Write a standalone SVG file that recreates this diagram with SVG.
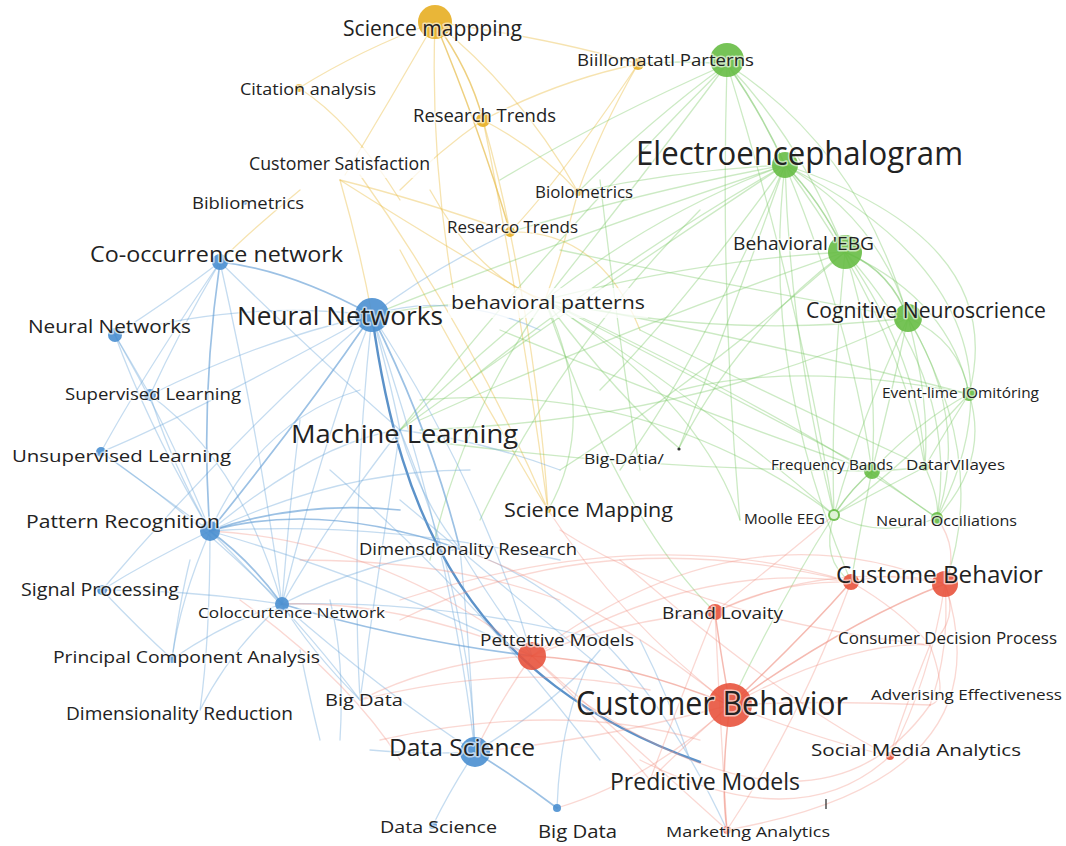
<svg xmlns="http://www.w3.org/2000/svg" width="1066" height="846" viewBox="0 0 1066 846">
  <style>
    .e { fill: none; stroke-width: 1.3; stroke-linecap: round; }
    .eb { stroke: #6da7da; stroke-opacity: 0.4; }
    .ebs { stroke: #3f7fbf; stroke-opacity: 0.85; stroke-width: 2.4; }
    .ebm { stroke: #5a98d2; stroke-opacity: 0.6; stroke-width: 1.7; }
    .eg { stroke: #79c765; stroke-opacity: 0.38; }
    .egm { stroke: #6bbf55; stroke-opacity: 0.55; stroke-width: 1.6; }
    .ey { stroke: #eac050; stroke-opacity: 0.45; }
    .eym { stroke: #e3b02c; stroke-opacity: 0.6; stroke-width: 1.5; }
    .er { stroke: #f09080; stroke-opacity: 0.35; }
    .erm { stroke: #ec7563; stroke-opacity: 0.5; stroke-width: 1.5; }
    .nb { fill: #4a8fd0; fill-opacity: 0.9; }
    .ng { fill: #67bd45; fill-opacity: 0.9; }
    .ny { fill: #e7ae22; fill-opacity: 0.9; }
    .nr { fill: #e8533d; fill-opacity: 0.9; }
    text { font-family: "Open Sans", "Noto Sans", "DejaVu Sans", sans-serif; fill: #222222;
           stroke: #ffffff; stroke-opacity: 0.6; stroke-width: 3; paint-order: stroke; stroke-linejoin: round; }
    .halo { fill: #ffffff; fill-opacity: 0.75; }
  </style>

  <rect width="1066" height="846" fill="#ffffff"/>

  <!-- connectors -->
  <g id="edges">
    <!-- yellow cluster -->
    <path class="e eym" d="M435,22 Q470,70 483,120"/>
    <path class="e ey" d="M435,22 Q360,50 299,88"/>
    <path class="e eym" d="M435,22 Q480,130 510,232"/>
    <path class="e ey" d="M435,22 Q390,100 345,175"/>
    <path class="e ey" d="M435,22 Q520,90 578,192"/>
    <path class="e ey" d="M435,22 Q430,160 455,300"/>
    <path class="e ey" d="M435,22 Q560,40 638,64"/>
    <path class="e ey" d="M483,120 Q520,300 548,510"/>
    <path class="e ey" d="M483,120 Q440,150 400,190"/>
    <path class="e ey" d="M483,120 Q560,80 638,64"/>
    <path class="e ey" d="M483,120 Q500,180 510,232"/>
    <path class="e ey" d="M483,120 Q540,150 578,192"/>
    <path class="e ey" d="M299,88 Q350,120 400,200"/>
    <path class="e ey" d="M340,180 Q420,200 510,232"/>
    <path class="e ey" d="M340,180 Q450,250 548,305"/>
    <path class="e ey" d="M340,180 Q360,250 372,315"/>
    <path class="e ey" d="M360,175 Q470,330 548,510"/>
    <path class="e ey" d="M300,190 Q240,240 220,262"/>
    <path class="e ey" d="M430,190 Q480,280 545,300"/>
    <path class="e ey" d="M510,232 Q540,380 548,510"/>
    <path class="e ey" d="M638,64 Q600,130 578,192"/>
    <path class="e ey" d="M638,64 Q560,180 510,232"/>
    <path class="e ey" d="M578,192 Q560,260 545,300"/>
    <path class="e ey" d="M400,250 Q470,380 548,510"/>
    <path class="e ey" d="M510,232 Q600,230 640,330"/>

    <!-- green cluster -->
    <path class="e egm" d="M727,64 Q760,110 785,165"/>
    <path class="e eg" d="M727,64 Q800,140 845,252"/>
    <path class="e eg" d="M727,64 Q860,150 908,318"/>
    <path class="e eg" d="M727,64 Q640,180 545,300"/>
    <path class="e eg" d="M727,64 Q720,300 740,520"/>
    <path class="e eg" d="M727,64 Q650,120 578,192"/>
    <path class="e eg" d="M727,64 Q680,60 638,64"/>
    <path class="e eg" d="M727,64 Q560,230 400,430"/>
    <path class="e eg" d="M727,64 Q600,120 500,180"/>
    <path class="e eg" d="M727,64 Q800,300 834,515"/>
    <path class="e egm" d="M785,165 Q820,200 845,252"/>
    <path class="e eg" d="M785,165 Q880,220 908,318"/>
    <path class="e eg" d="M785,165 Q1010,240 969,394"/>
    <path class="e eg" d="M785,165 Q1050,300 937,518"/>
    <path class="e eg" d="M785,165 Q850,320 872,471"/>
    <path class="e eg" d="M785,165 Q900,320 925,467"/>
    <path class="e eg" d="M785,165 Q790,340 834,515"/>
    <path class="e eg" d="M785,165 Q660,210 545,300"/>
    <path class="e eg" d="M785,165 Q730,320 679,448"/>
    <path class="e eg" d="M785,165 Q680,170 578,192"/>
    <path class="e eg" d="M785,165 Q650,190 510,232"/>
    <path class="e eg" d="M785,165 Q580,300 400,430"/>
    <path class="e eg" d="M785,165 Q560,240 372,315"/>
    <path class="e eg" d="M785,165 Q760,370 851,582"/>
    <path class="e eg" d="M785,165 Q700,360 620,470"/>
    <path class="e eg" d="M785,165 Q620,260 470,380"/>
    <path class="e eg" d="M785,165 Q680,310 600,390"/>
    <path class="e egm" d="M845,252 Q890,270 908,318"/>
    <path class="e eg" d="M845,252 Q950,300 969,394"/>
    <path class="e eg" d="M845,252 Q880,360 872,471"/>
    <path class="e eg" d="M845,252 Q920,360 925,467"/>
    <path class="e eg" d="M845,252 Q830,400 834,515"/>
    <path class="e eg" d="M845,252 Q960,380 937,518"/>
    <path class="e eg" d="M845,252 Q700,260 545,300"/>
    <path class="e eg" d="M845,252 Q740,330 679,448"/>
    <path class="e eg" d="M845,252 Q620,330 420,420"/>
    <path class="e eg" d="M845,252 Q700,380 560,470"/>
    <path class="e eg" d="M908,318 Q960,340 969,394"/>
    <path class="e eg" d="M908,318 Q890,400 872,471"/>
    <path class="e eg" d="M908,318 Q930,400 925,467"/>
    <path class="e eg" d="M908,318 Q860,420 834,515"/>
    <path class="e eg" d="M908,318 Q970,420 937,518"/>
    <path class="e eg" d="M908,318 Q990,460 945,584"/>
    <path class="e eg" d="M908,318 Q720,340 545,300"/>
    <path class="e eg" d="M908,318 Q700,420 420,430"/>
    <path class="e eg" d="M969,394 Q920,420 872,471"/>
    <path class="e eg" d="M969,394 Q940,440 925,467"/>
    <path class="e eg" d="M969,394 Q990,460 937,518"/>
    <path class="e eg" d="M969,394 Q800,360 680,390"/>
    <path class="e eg" d="M969,394 Q900,470 834,515"/>
    <path class="e egm" d="M872,471 Q850,490 834,515"/>
    <path class="e eg" d="M872,471 Q900,470 925,467"/>
    <path class="e eg" d="M872,471 Q910,500 937,518"/>
    <path class="e eg" d="M872,471 Q700,380 545,300"/>
    <path class="e eg" d="M872,471 Q640,470 420,440"/>
    <path class="e eg" d="M872,471 Q860,530 851,582"/>
    <path class="e eg" d="M925,467 Q880,490 834,515"/>
    <path class="e eg" d="M925,467 Q940,500 937,518"/>
    <path class="e eg" d="M834,515 Q880,540 937,518"/>
    <path class="e eg" d="M834,515 Q820,560 851,582"/>
    <path class="e eg" d="M834,515 Q700,400 545,300"/>
    <path class="e eg" d="M834,515 Q780,600 730,705"/>
    <path class="e eg" d="M545,300 Q620,400 679,448"/>
    <path class="e eg" d="M545,300 Q600,420 548,510"/>
    <path class="e eg" d="M545,300 Q470,360 400,430"/>
    <path class="e eg" d="M545,300 Q460,300 372,315"/>
    <path class="e eg" d="M545,300 Q700,400 740,520"/>
    <path class="e eg" d="M545,300 Q760,340 969,394"/>
    <path class="e eg" d="M545,300 Q800,420 937,518"/>
    <path class="e eg" d="M545,300 Q460,420 430,560"/>
    <path class="e eg" d="M545,300 Q620,520 715,612"/>
    <path class="e eg" d="M560,250 Q700,280 908,318"/>
    <path class="e eg" d="M420,400 Q650,380 834,515"/>
    <path class="e eg" d="M500,330 Q720,420 872,471"/>
    <path class="e eg" d="M600,180 Q620,350 640,470"/>
    <path class="e eg" d="M640,330 Q780,400 925,467"/>
    <path class="e eg" d="M700,210 Q560,350 480,520"/>

    <!-- blue cluster -->
    <path class="e ebs" d="M372,315 C400,520 470,680 700,762"/>
    <path class="e ebm" d="M372,315 Q290,270 220,262"/>
    <path class="e eb" d="M372,315 Q240,300 115,335"/>
    <path class="e eb" d="M372,315 Q260,340 150,395"/>
    <path class="e ebm" d="M372,315 Q300,420 210,531"/>
    <path class="e eb" d="M372,315 Q320,450 282,604"/>
    <path class="e eb" d="M372,315 Q230,440 102,590"/>
    <path class="e ebm" d="M372,315 Q430,430 460,549"/>
    <path class="e eb" d="M372,315 Q350,520 360,700"/>
    <path class="e eb" d="M372,315 Q450,540 475,752"/>
    <path class="e eb" d="M372,315 Q480,480 532,656"/>
    <path class="e eb" d="M372,315 Q390,380 400,430"/>
    <path class="e eb" d="M372,315 Q180,420 101,452"/>
    <path class="e eb" d="M372,315 Q450,290 540,330"/>
    <path class="e eb" d="M372,315 Q430,270 510,232"/>
    <path class="e ebm" d="M210,531 Q200,400 220,262"/>
    <path class="e eb" d="M210,531 Q150,430 115,335"/>
    <path class="e eb" d="M210,531 Q170,460 150,395"/>
    <path class="e eb" d="M210,531 Q140,480 101,452"/>
    <path class="e eb" d="M210,531 Q150,560 102,590"/>
    <path class="e ebm" d="M210,531 Q250,560 282,604"/>
    <path class="e eb" d="M210,531 Q180,600 172,659"/>
    <path class="e eb" d="M210,531 Q210,640 200,710"/>
    <path class="e eb" d="M210,531 Q300,620 360,700"/>
    <path class="e ebm" d="M210,531 Q320,500 460,549"/>
    <path class="e ebm" d="M210,531 Q300,500 400,510"/>
    <path class="e eb" d="M210,531 Q320,440 400,430"/>
    <path class="e eb" d="M210,531 Q380,580 532,656"/>
    <path class="e eb" d="M210,531 Q380,520 560,560"/>
    <path class="e eb" d="M210,531 Q260,420 360,390"/>
    <path class="e eb" d="M210,531 Q340,470 470,470"/>
    <path class="e eb" d="M282,604 Q230,620 172,659"/>
    <path class="e eb" d="M282,604 Q190,590 102,590"/>
    <path class="e eb" d="M282,604 Q310,650 360,700"/>
    <path class="e ebm" d="M282,604 Q400,640 532,656"/>
    <path class="e eb" d="M282,604 Q380,690 475,752"/>
    <path class="e eb" d="M282,604 Q230,650 200,710"/>
    <path class="e eb" d="M282,604 Q370,560 460,549"/>
    <path class="e eb" d="M282,604 Q290,500 300,420"/>
    <path class="e eb" d="M282,604 Q330,520 400,430"/>
    <path class="e eb" d="M282,604 Q450,600 600,640"/>
    <path class="e eb" d="M220,262 Q170,300 115,335"/>
    <path class="e eb" d="M220,262 Q180,330 150,395"/>
    <path class="e eb" d="M220,262 Q260,440 282,604"/>
    <path class="e eb" d="M220,262 Q320,360 400,430"/>
    <path class="e eb" d="M220,262 Q140,380 101,452"/>
    <path class="e eb" d="M115,335 Q130,360 150,395"/>
    <path class="e eb" d="M115,335 Q170,430 210,531"/>
    <path class="e eb" d="M150,395 Q240,460 282,604"/>
    <path class="e eb" d="M101,452 Q200,520 282,604"/>
    <path class="e eb" d="M102,590 Q140,630 172,659"/>
    <path class="e eb" d="M172,659 Q180,600 190,560"/>
    <path class="e eb" d="M400,430 Q420,500 460,549"/>
    <path class="e eb" d="M400,430 Q380,560 360,700"/>
    <path class="e eb" d="M400,430 Q470,600 475,752"/>
    <path class="e eb" d="M400,430 Q480,440 560,470"/>
    <path class="e eb" d="M460,549 Q490,600 532,656"/>
    <path class="e eb" d="M460,549 Q470,650 475,752"/>
    <path class="e eb" d="M460,549 Q620,600 727,830"/>
    <path class="e ebm" d="M475,752 Q520,780 557,808"/>
    <path class="e eb" d="M475,752 Q450,790 433,825"/>
    <path class="e eb" d="M475,752 Q420,755 370,750"/>
    <path class="e eb" d="M475,752 Q560,700 600,650"/>
    <path class="e eb" d="M557,808 Q560,720 590,660"/>
    <path class="e eb" d="M640,640 Q670,700 690,760"/>
    <path class="e eb" d="M330,600 Q345,660 340,740"/>
    <path class="e eb" d="M300,650 Q310,700 320,740"/>
    <path class="e eb" d="M400,500 Q520,600 640,700"/>
    <path class="e eb" d="M330,470 Q480,600 600,760"/>

    <!-- red cluster -->
    <path class="e erm" d="M730,705 Q800,640 851,582"/>
    <path class="e erm" d="M730,705 Q850,620 945,584"/>
    <path class="e erm" d="M730,705 Q720,650 715,612"/>
    <path class="e erm" d="M730,705 Q620,660 532,656"/>
    <path class="e er" d="M730,705 Q850,640 930,645"/>
    <path class="e er" d="M730,705 Q830,700 930,705"/>
    <path class="e er" d="M730,705 Q820,740 890,756"/>
    <path class="e erm" d="M730,705 Q720,780 727,830"/>
    <path class="e er" d="M730,705 Q690,740 650,780"/>
    <path class="e er" d="M730,705 Q600,740 475,752"/>
    <path class="e er" d="M730,705 Q650,780 557,808"/>
    <path class="e er" d="M730,705 Q620,620 548,510"/>
    <path class="e er" d="M730,705 Q600,600 460,549"/>
    <path class="e er" d="M945,584 Q900,570 851,582"/>
    <path class="e er" d="M945,584 Q830,560 715,612"/>
    <path class="e er" d="M945,584 Q960,620 930,645"/>
    <path class="e er" d="M945,584 Q950,650 930,705"/>
    <path class="e er" d="M945,584 Q930,680 890,756"/>
    <path class="e er" d="M945,584 Q1010,780 727,830"/>
    <path class="e er" d="M945,584 Q740,500 532,656"/>
    <path class="e er" d="M945,584 Q960,550 937,518"/>
    <path class="e er" d="M851,582 Q780,580 715,612"/>
    <path class="e er" d="M851,582 Q700,560 532,656"/>
    <path class="e er" d="M851,582 Q900,610 930,645"/>
    <path class="e er" d="M851,582 Q800,720 727,830"/>
    <path class="e er" d="M851,582 Q650,520 400,600"/>
    <path class="e er" d="M532,656 Q620,620 715,612"/>
    <path class="e er" d="M532,656 Q600,720 650,780"/>
    <path class="e er" d="M532,656 Q650,760 727,830"/>
    <path class="e er" d="M532,656 Q500,700 475,752"/>
    <path class="e er" d="M532,656 Q440,660 360,700"/>
    <path class="e er" d="M532,656 Q400,600 282,604"/>
    <path class="e er" d="M532,656 Q380,540 210,531"/>
    <path class="e er" d="M715,612 Q720,720 727,830"/>
    <path class="e er" d="M715,612 Q680,700 650,780"/>
    <path class="e er" d="M715,612 Q780,560 834,515"/>
    <path class="e er" d="M640,760 Q800,840 890,756"/>
    <path class="e er" d="M580,700 Q820,860 930,705"/>
    <path class="e er" d="M400,620 Q600,520 851,582"/>
    <path class="e er" d="M360,700 Q520,660 650,690"/>
    <path class="e er" d="M380,740 Q560,700 700,740"/>
    <path class="e er" d="M620,560 Q780,700 890,756"/>
    <path class="e er" d="M560,530 Q700,620 930,645"/>
    <path class="e er" d="M930,645 Q950,700 930,705"/>
    <path class="e er" d="M930,645 Q900,720 890,756"/>
    <path class="e er" d="M300,560 Q450,560 560,600"/>
    <path class="e er" d="M240,600 Q350,680 400,760"/>
  </g>

  <!-- white backgrounds behind the two boxed labels -->
  <rect class="halo" x="246" y="148" width="188" height="30"/>
  <rect class="halo" x="448" y="288" width="200" height="30"/>

  <!-- nodes: yellow cluster -->
  <g id="n-science-mappping"><circle class="ny" cx="435" cy="22" r="17"/><text x="343" y="36" font-size="21" textLength="179" lengthAdjust="spacingAndGlyphs">Science mappping</text></g>
  <g id="n-citation-analysis"><circle class="ny" cx="299" cy="88" r="4"/><text x="240" y="95" font-size="17" textLength="136" lengthAdjust="spacingAndGlyphs">Citation analysis</text></g>
  <g id="n-research-trends"><circle class="ny" cx="483" cy="120" r="7"/><text x="413" y="122" font-size="18" textLength="143" lengthAdjust="spacingAndGlyphs">Research Trends</text></g>
  <g id="n-customer-satisfaction"><text x="249" y="170" font-size="19" textLength="181" lengthAdjust="spacingAndGlyphs">Customer Satisfaction</text></g>
  <g id="n-biolometrics"><circle class="ny" cx="578" cy="192" r="4"/><text x="535" y="198" font-size="16" textLength="98" lengthAdjust="spacingAndGlyphs">Biolometrics</text></g>
  <g id="n-researco-trends"><circle class="ny" cx="510" cy="232" r="5"/><text x="447" y="233" font-size="16" textLength="131" lengthAdjust="spacingAndGlyphs">Researco Trends</text></g>
  <g id="n-bibliometrics"><circle class="nb" cx="245" cy="203" r="2"/><text x="192" y="209" font-size="16" textLength="112" lengthAdjust="spacingAndGlyphs">Bibliometrics</text></g>
  <g id="n-science-mapping"><circle class="ny" cx="548" cy="510" r="3" fill-opacity="0.6"/><text x="504" y="517" font-size="20" textLength="169" lengthAdjust="spacingAndGlyphs">Science Mapping</text></g>

  <!-- nodes: green cluster -->
  <g id="n-parterns"><circle class="ny" cx="638" cy="64" r="6"/><circle class="ng" cx="727" cy="60" r="17"/><text x="577" y="66" font-size="17" textLength="177" lengthAdjust="spacingAndGlyphs">Biillomatatl Parterns</text></g>
  <g id="n-electroencephalogram"><circle class="ng" cx="785" cy="165" r="13"/><text x="636" y="165" font-size="33" textLength="327" lengthAdjust="spacingAndGlyphs">Electroencephalogram</text></g>
  <g id="n-behavioral-ebg"><circle class="ng" cx="845" cy="252" r="17"/><text x="733" y="250" font-size="18" textLength="141" lengthAdjust="spacingAndGlyphs">Behavioral 'EBG</text></g>
  <g id="n-cognitive-neuroscience"><circle class="ng" cx="908" cy="318" r="14"/><text x="806" y="318" font-size="21" textLength="240" lengthAdjust="spacingAndGlyphs">Cognitive Neuroscrience</text></g>
  <g id="n-event-time"><circle class="ng" cx="969" cy="394" r="7"/><text x="882" y="398" font-size="15" textLength="157" lengthAdjust="spacingAndGlyphs">Event-lime IOmitóring</text></g>
  <g id="n-frequency-bands"><circle class="ng" cx="872" cy="471" r="8"/><text x="771" y="470" font-size="14" textLength="122" lengthAdjust="spacingAndGlyphs">Frequency Bands</text></g>
  <g id="n-data-waves"><circle class="ng" cx="925" cy="467" r="4"/><text x="906" y="470" font-size="15" textLength="99" lengthAdjust="spacingAndGlyphs">DatarVIlayes</text></g>
  <g id="n-mobile-eeg"><circle class="ng" cx="834" cy="515" r="6"/><circle cx="834" cy="515" r="4" fill="#dff2d6"/><text x="744" y="524" font-size="14" textLength="81" lengthAdjust="spacingAndGlyphs">Moolle EEG</text></g>
  <g id="n-neural-oscillations"><circle class="ng" cx="937" cy="518" r="6"/><text x="876" y="526" font-size="15" textLength="141" lengthAdjust="spacingAndGlyphs">Neural Occiliations</text></g>
  <g id="n-behavioral-patterns"><text x="451" y="309" font-size="19" textLength="194" lengthAdjust="spacingAndGlyphs">behavioral patterns</text></g>
  <g id="n-big-datia"><circle cx="679" cy="449" r="1.6" fill="#333333"/><text x="584" y="464" font-size="14" textLength="80" lengthAdjust="spacingAndGlyphs">Big-Datia/</text></g>

  <!-- nodes: blue cluster -->
  <g id="n-neural-networks"><circle class="nb" cx="372" cy="315" r="17"/><text x="237" y="325" font-size="26" textLength="206" lengthAdjust="spacingAndGlyphs">Neural Networks</text></g>
  <g id="n-co-occurrence-network"><circle class="nb" cx="220" cy="262" r="8"/><text x="90" y="262" font-size="21" textLength="253" lengthAdjust="spacingAndGlyphs">Co-occurrence network</text></g>
  <g id="n-neural-networks-2"><circle class="nb" cx="115" cy="335" r="7"/><text x="28" y="333" font-size="18" textLength="163" lengthAdjust="spacingAndGlyphs">Neural Networks</text></g>
  <g id="n-supervised"><circle class="nb" cx="150" cy="395" r="6"/><text x="65" y="400" font-size="17" textLength="176" lengthAdjust="spacingAndGlyphs">Supervised Learning</text></g>
  <g id="n-unsupervised"><circle class="nb" cx="101" cy="452" r="5"/><text x="12" y="462" font-size="17" textLength="219" lengthAdjust="spacingAndGlyphs">Unsupervised Learning</text></g>
  <g id="n-machine-learning"><text x="291" y="443" font-size="26" textLength="227" lengthAdjust="spacingAndGlyphs">Machine Learning</text></g>
  <g id="n-pattern-recognition"><circle class="nb" cx="210" cy="531" r="10"/><text x="26" y="528" font-size="19" textLength="194" lengthAdjust="spacingAndGlyphs">Pattern Recognition</text></g>
  <g id="n-signal-processing"><circle class="nb" cx="102" cy="590" r="5"/><text x="21" y="596" font-size="18" textLength="158" lengthAdjust="spacingAndGlyphs">Signal Processing</text></g>
  <g id="n-coloccurtence-network"><circle class="nb" cx="282" cy="604" r="7"/><text x="198" y="618" font-size="15" textLength="187" lengthAdjust="spacingAndGlyphs">Coloccurtence Network</text></g>
  <g id="n-pca"><circle class="nb" cx="172" cy="659" r="4"/><text x="53" y="663" font-size="17" textLength="267" lengthAdjust="spacingAndGlyphs">Principal Component Analysis</text></g>
  <g id="n-dimensionality-reduction"><text x="66" y="720" font-size="18" textLength="227" lengthAdjust="spacingAndGlyphs">Dimensionality Reduction</text></g>
  <g id="n-big-data"><text x="325" y="706" font-size="17" textLength="78" lengthAdjust="spacingAndGlyphs">Big Data</text></g>
  <g id="n-dimensdonality-research"><text x="359" y="555" font-size="17" textLength="218" lengthAdjust="spacingAndGlyphs">Dimensdonality Research</text></g>
  <g id="n-data-science"><circle class="nb" cx="475" cy="752" r="15"/><text x="389" y="756" font-size="23" textLength="146" lengthAdjust="spacingAndGlyphs">Data Science</text></g>
  <g id="n-data-science-2"><circle class="nb" cx="433" cy="825" r="4"/><text x="380" y="833" font-size="17" textLength="117" lengthAdjust="spacingAndGlyphs">Data Science</text></g>
  <g id="n-big-data-2"><circle class="nb" cx="557" cy="808" r="4"/><text x="538" y="838" font-size="18" textLength="79" lengthAdjust="spacingAndGlyphs">Big Data</text></g>

  <!-- nodes: red cluster -->
  <g id="n-customer-behavior"><circle class="nr" cx="730" cy="705" r="22"/><text x="576" y="715" font-size="33" textLength="272" lengthAdjust="spacingAndGlyphs">Customer Behavior</text></g>
  <g id="n-custome-behavior"><circle class="nr" cx="851" cy="582" r="8"/><circle class="nr" cx="945" cy="584" r="13"/><text x="836" y="583" font-size="23" textLength="207" lengthAdjust="spacingAndGlyphs">Custome  Behavior</text></g>
  <g id="n-brand-lovaity"><circle class="nr" cx="715" cy="612" r="8"/><text x="662" y="619" font-size="17" textLength="121" lengthAdjust="spacingAndGlyphs">Brand Lovaity</text></g>
  <g id="n-pettettive-models"><circle class="nr" cx="532" cy="656" r="14"/><text x="480" y="646" font-size="17" textLength="154" lengthAdjust="spacingAndGlyphs">Pettettive Models</text></g>
  <g id="n-consumer-decision"><text x="838" y="644" font-size="16" textLength="219" lengthAdjust="spacingAndGlyphs">Consumer Decision Process</text></g>
  <g id="n-advertising"><text x="871" y="700" font-size="15" textLength="191" lengthAdjust="spacingAndGlyphs">Adverising Effectiveness</text></g>
  <g id="n-social-media"><circle class="nr" cx="890" cy="756" r="4"/><text x="811" y="756" font-size="16" textLength="210" lengthAdjust="spacingAndGlyphs">Social Media Analytics</text></g>
  <g id="n-predictive-models"><text x="610" y="790" font-size="23" textLength="190" lengthAdjust="spacingAndGlyphs">Predictive Models</text></g>
  <g id="n-marketing-analytics"><circle class="nr" cx="727" cy="830" r="4"/><text x="666" y="837" font-size="15" textLength="164" lengthAdjust="spacingAndGlyphs">Marketing Analytics</text></g>

  <!-- stray tick mark -->
  <line x1="826" y1="799" x2="826" y2="809" stroke="#333333" stroke-width="1.3"/>
</svg>
